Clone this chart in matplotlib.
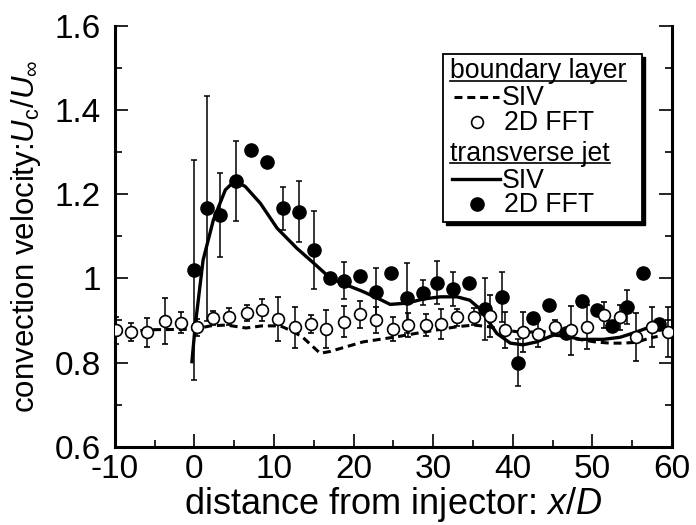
import matplotlib
matplotlib.use('Agg')
import matplotlib.pyplot as plt
from matplotlib.lines import Line2D
from matplotlib.patches import Rectangle
from matplotlib.ticker import MultipleLocator

plt.rcParams['font.family'] = ['Liberation Sans', 'DejaVu Sans']
plt.rcParams['mathtext.fontset'] = 'custom'
plt.rcParams['mathtext.rm'] = 'Liberation Sans'
plt.rcParams['mathtext.it'] = 'Liberation Sans:italic'
plt.rcParams['axes.unicode_minus'] = False

# boundary layer, 2D FFT (open circles)
bl_fft_x = [-9.8, -7.9, -5.9, -3.7, -1.7, 0.4, 2.4, 4.4, 6.6, 8.5, 10.5, 12.6,
            14.6, 16.6, 18.8, 20.8, 22.8, 24.9, 26.8, 29.1, 31.0, 33.0, 35.1,
            37.1, 39.0, 41.3, 43.2, 45.3, 47.3, 49.3, 51.4, 53.5, 55.5, 57.5, 59.5]
bl_fft_y = [0.877, 0.873, 0.872, 0.899, 0.894, 0.884, 0.905, 0.909, 0.917, 0.925,
            0.903, 0.884, 0.891, 0.880, 0.897, 0.915, 0.901, 0.880, 0.889, 0.889,
            0.891, 0.907, 0.909, 0.910, 0.877, 0.873, 0.868, 0.884, 0.877, 0.884,
            0.913, 0.907, 0.861, 0.884, 0.873]
bl_fft_err = [0.032, 0.021, 0.034, 0.054, 0.025, 0.02, 0.017, 0.02, 0.019, 0.026,
              0.053, 0.049, 0.021, 0.045, 0.037, 0.032, 0.031, 0.028, 0.029, 0.026,
              0.035, 0.02, 0.02, 0.05, 0.043, 0.048, 0.032, 0.017, 0.058, 0.053,
              0.03, 0.03, 0.057, 0.047, 0.06]

# transverse jet, 2D FFT (filled circles)
tj_fft_x = [-0.1, 1.6, 3.2, 5.2, 7.1, 9.1, 11.1, 13.1, 15.0, 17.0, 18.8, 20.8,
            22.8, 24.7, 26.7, 28.7, 30.5, 32.5, 34.5, 36.5, 38.6, 40.6, 42.6,
            44.6, 46.7, 48.7, 50.6, 52.5, 54.4, 56.3, 58.4]
tj_fft_y = [1.020, 1.166, 1.150, 1.232, 1.305, 1.277, 1.166, 1.158, 1.067, 1.000,
            0.994, 1.006, 0.968, 1.013, 0.954, 0.966, 0.990, 0.974, 0.988, 0.927,
            0.956, 0.800, 0.906, 0.937, 0.870, 0.947, 0.925, 0.887, 0.932, 1.013, 0.891]
tj_fft_err = [0.262, 0.268, 0.10, 0.095, 0, 0, 0.052, 0.072, 0.093, 0,
              0.044, 0, 0.057, 0, 0.083, 0.03, 0.05, 0.04, 0, 0.073,
              0.06, 0.055, 0, 0, 0, 0, 0, 0, 0.041, 0, 0]

# boundary layer, SIV (dashed)
bl_siv_x = [-10, -5, 0, 2, 4, 6.5, 8.5, 10.8, 12, 13.5, 15.8, 17, 21.2, 25.4, 28.7,
            33.0, 35.1, 37, 39, 41, 44, 46, 48, 50.3, 52.2, 53.9, 55.5, 57.2, 58.2]
bl_siv_y = [0.872, 0.878, 0.879, 0.887, 0.889, 0.882, 0.887, 0.887, 0.877, 0.862,
            0.822, 0.826, 0.849, 0.861, 0.872, 0.885, 0.889, 0.885, 0.877, 0.872,
            0.873, 0.868, 0.856, 0.849, 0.846, 0.846, 0.848, 0.858, 0.862]

# transverse jet, SIV (solid)
tj_siv_x = [-0.3, 0.1, 1.1, 2.4, 3.9, 5.1, 6.4, 8.3, 10.4, 12.9, 15.0, 17.1, 19.0,
            21.0, 23.0, 24.6, 26.7, 28.8, 30.9, 33.0, 34.6, 35.9, 38.0, 39.7, 41.3,
            43.0, 45.1, 46.6, 48.5, 51.4, 53.5, 55.6, 57.3, 58.7]
tj_siv_y = [0.802, 0.885, 1.043, 1.139, 1.21, 1.232, 1.218, 1.178, 1.119, 1.071,
            1.036, 1.0, 0.985, 0.970, 0.953, 0.938, 0.941, 0.951, 0.956, 0.956,
            0.948, 0.927, 0.869, 0.846, 0.842, 0.849, 0.865, 0.863, 0.855, 0.855,
            0.86, 0.873, 0.885, 0.893]

yticks = [0.6, 0.8, 1.0, 1.2, 1.4, 1.6]
ytick_labels = ['0.6', '0.8', '1', '1.2', '1.4', '1.6']

W, H = 696, 525
fig = plt.figure(figsize=(W / 100, H / 100), dpi=100)
ax = fig.add_axes([0.1648, 0.1491, 0.8007, 0.802])

ax.plot(tj_siv_x, tj_siv_y, color='k', lw=2.4, solid_joinstyle='round', zorder=2)
ax.plot(bl_siv_x, bl_siv_y, color='k', lw=2.2, ls=(0, (2.6, 1.6)), zorder=2)
ax.errorbar(tj_fft_x, tj_fft_y, yerr=tj_fft_err, fmt='o', color='k', ms=9.5,
            elinewidth=1.1, capsize=2.4, capthick=1.1, zorder=3)
ax.errorbar(bl_fft_x, bl_fft_y, yerr=bl_fft_err, fmt='o', mfc='white', mec='k',
            mew=1.2, ms=8.5, ecolor='k', elinewidth=1.1, capsize=2.4, capthick=1.1,
            zorder=4)

ax.set_xlim(-10, 60)
ax.set_ylim(0.6, 1.6)
ax.set_xticks(range(-10, 61, 10))
ax.xaxis.set_minor_locator(MultipleLocator(5))
ax.set_yticks(yticks)
ax.set_yticklabels(ytick_labels)
ax.yaxis.set_minor_locator(MultipleLocator(0.1))
ax.tick_params(which='both', direction='in', left=True, right=True, bottom=True,
               top=False, labelsize=24, width=1.2)
ax.tick_params(which='major', length=9.5)
ax.tick_params(which='minor', length=5)
ax.tick_params(axis='y', pad=10)
ax.tick_params(axis='x', pad=5)
ax.spines['top'].set_visible(False)
for s in ['left', 'right', 'bottom']:
    ax.spines[s].set_linewidth(2.2)

ax.set_xlabel('distance from injector: $x$/$D$', fontsize=26)
ax.xaxis.set_label_coords(0.5, -0.09)
ax.set_ylabel(r'convection velocity:$U_\mathrm{c}$/$U_\infty$', fontsize=22.5)
ax.yaxis.set_label_coords(-0.128, 0.5)


# legend, drawn by hand (pixel positions from the top-left corner)
def px(x, y):
    return x / W, 1 - y / H


def leg_line(x0, x1, y, **kw):
    a, b = px(x0, y)
    c, d = px(x1, y)
    fig.add_artist(Line2D([a, c], [b, d], transform=fig.transFigure, color='k', **kw))


def leg_text(x, y, s):
    return fig.text(*px(x, y), s, fontsize=19.2, va='baseline', ha='left')


box_l, box_t, box_r, box_b = 443, 54, 642, 222
fig.add_artist(Rectangle(px(box_l + 3, box_b + 3), (box_r - box_l) / W,
                         (box_b - box_t) / H, transform=fig.transFigure,
                         fc='k', ec='k', zorder=5))
fig.add_artist(Rectangle(px(box_l, box_b), (box_r - box_l) / W,
                         (box_b - box_t) / H, transform=fig.transFigure,
                         fc='white', ec='k', lw=1.3, zorder=6))

head1 = leg_text(450, 78, 'boundary layer')
head2 = leg_text(450, 161, 'transverse jet')
leg_line(454, 499, 97, lw=2.2, ls=(0, (2.6, 1.6)), zorder=7)
leg_text(502, 105, 'SIV')
fig.add_artist(Line2D([px(477, 122)[0]], [px(477, 122)[1]], transform=fig.transFigure,
                      marker='o', ms=8.5, mfc='white', mec='k', mew=1.2, zorder=7))
leg_text(504, 130, '2D FFT')
leg_line(452, 500, 179, lw=2.4, zorder=7)
leg_text(502, 188, 'SIV')
fig.add_artist(Line2D([px(477, 204)[0]], [px(477, 204)[1]], transform=fig.transFigure,
                      marker='o', ms=9.5, color='k', zorder=7))
leg_text(504, 212, '2D FFT')

fig.canvas.draw()
r = fig.canvas.get_renderer()
for t, y in ((head1, 80.7), (head2, 163.3)):
    bb = t.get_window_extent(r)
    leg_line(bb.x0, bb.x1, y, lw=1.2, zorder=7)
for t in fig.texts:
    t.set_zorder(7)

fig.savefig('out.png', dpi=100)
